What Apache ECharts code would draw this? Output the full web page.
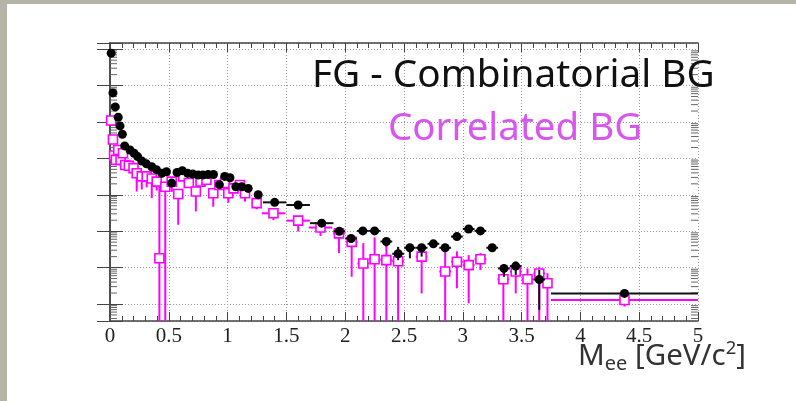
<!DOCTYPE html>
<html><head><meta charset="utf-8">
<script src="https://cdn.jsdelivr.net/npm/echarts@6/dist/echarts.min.js"></script>
<style>
html,body{margin:0;padding:0;background:#b6b4a6;width:796px;height:401px;overflow:hidden;}
#chart{position:absolute;left:7px;top:4px;width:789px;height:397px;background:#fff;}
</style></head>
<body><div id="chart"></div>
<script>
// ---- FG - Combinatorial BG (black filled circles) ----
const fgX  = [0.01,0.025,0.045,0.07,0.085,0.105,0.125,0.17,0.205,0.235,0.27,0.31,0.355,0.395,0.44,0.48,0.525,0.57,0.615,0.66,0.705,0.75,0.79,0.835,0.88,0.93,0.975,1.02,1.07,1.12,1.175,1.26,1.4,1.6,1.8,1.95,2.05,2.15,2.25,2.35,2.45,2.55,2.65,2.75,2.85,2.95,3.05,3.15,3.25,3.35,3.45,3.65,4.375];
const fgY  = [7.8e6,6.3e5,2.6e5,1.35e5,7.8e4,4.6e4,2.2e4,1.7e4,1.38e4,1.12e4,8500,7100,5900,4900,3900,4300,2100,4100,4600,3900,3700,3500,3500,3600,3600,1900,3200,2950,1660,1660,1500,1000,620,525,166,100,63,102,102,52,24,35,35,45,35,71,115,102,35,9.5,11,4.7,1.95];
const fgLo = [0,0,0,0,0,0,0,0,0,0,0,0,0,0,0,0,0,0,0,0,0,0,0,0,0,0,0,0,0,0,0,0,0,0,0,0,52,0,0,38,16,18,20,36,27,0,0,0,28,5.6,6.3,0.69,0];
const fgHi = [0,0,0,0,0,0,0,0,0,0,0,0,0,0,0,0,0,0,0,0,0,0,0,0,0,0,0,0,0,0,0,0,0,0,0,0,75,0,0,62,37,42,42,55,44,0,0,0,44,12,14.5,8.6,0];
const fgHW = [0,0,0,0,0,0,0,0,0,0,0,0,0,0,0,0,0,0,0,0,0,0,0,0,0,0,0,0,0,0,0,0,0.1,0.1,0.1,0.05,0.05,0.05,0.05,0.05,0.05,0.05,0.05,0.05,0.05,0.05,0.05,0.05,0.05,0.05,0.05,0.05,0.625];

// ---- Correlated BG (magenta open squares) ----
const cbX  = [0.01,0.025,0.035,0.05,0.07,0.09,0.11,0.13,0.16,0.2,0.227,0.27,0.312,0.355,0.397,0.42,0.47,0.525,0.58,0.623,0.67,0.73,0.77,0.82,0.878,0.93,0.978,1.006,1.05,1.105,1.148,1.247,1.39,1.6,1.79,1.947,2.055,2.154,2.25,2.35,2.45,2.65,2.85,2.95,3.05,3.15,3.345,3.45,3.55,3.65,3.72,4.375];
const cbY  = [1.1e5,3.3e4,1.2e4,9100,1.7e4,9100,1.38e4,6600,6300,5400,3900,3200,3200,2800,2300,18,1660,2300,1050,3200,2100,1230,2300,2600,1100,1860,2100,1100,1500,1860,1100,590,310,195,126,87,51,13,17,16,15,20,7.8,14.5,11.7,17,4.8,7.8,4.8,6.9,3.7,1.29];
const cbLo = [0,0,0,0,0,0,0,0,0,0,1230,1400,1600,810,1300,0.01,0.01,1200,150,0,0,350,0,0,470,0,0,600,0,0,650,400,200,98,74,25,5.6,0.01,0.01,0.01,0.01,1.95,0.01,2.7,1.05,8.5,0.01,1.95,0.01,0.01,0.01,0.85];
const cbHi = [0,0,0,0,0,0,0,0,0,0,0,0,0,0,0,1660,0,0,0,0,0,0,0,0,0,0,0,0,0,0,0,0,0,0,0,0,0,47,68,45,37,42,28,28,22,25,9.5,14.5,9.5,10.5,7,1.6];
const cbHW = [0,0,0,0,0,0,0,0,0,0,0,0,0,0,0,0,0,0,0,0,0,0,0,0,0,0,0,0,0,0,0,0,0.1,0.1,0.1,0.05,0.05,0.05,0.05,0.05,0.05,0.05,0.05,0.05,0.05,0.05,0.05,0.05,0.05,0.05,0.03,0.625];

// ---- axes ----
const xMin = 0, xMax = 5, xStep = 0.5;
const yMin = 0.341, yMax = 1.48e7;
const decadeExps = [-1,0,1,2,3,4,5,6,7];
const minorMantissas = [2,3,4,5,6,7,8,9];

const chart = echarts.init(document.getElementById('chart'), null, {renderer:'canvas'});

const fgData = fgX.map((x,i)=>[x, fgY[i], fgLo[i], fgHi[i], fgHW[i]]);
const cbData = cbX.map((x,i)=>[x, cbY[i], cbLo[i], cbHi[i], cbHW[i]]);
const minorTicks = [];
decadeExps.forEach(e=>minorMantissas.forEach(m=>{const v=m*Math.pow(10,e); if(v>yMin&&v<yMax) minorTicks.push([0,v]);}));

function errRender(color, lw){
  return function(params, api){
    const x=api.value(0), y=api.value(1), lo=api.value(2), hi=api.value(3), hw=api.value(4);
    const cs=params.coordSys;
    const cl=v=>Math.max(cs.y, Math.min(cs.y+cs.height, v));
    const c=api.coord([x,y]);
    const ch=[];
    if(lo>0||hi>0){
      const a=lo>0?api.coord([x,lo])[1]:c[1];
      const b=hi>0?api.coord([x,hi])[1]:c[1];
      ch.push({type:'line',shape:{x1:c[0],y1:cl(a),x2:c[0],y2:cl(b)},style:{stroke:color,lineWidth:lw}});
    }
    if(hw>0){
      const l=api.coord([x-hw,y]), r=api.coord([x+hw,y]);
      ch.push({type:'line',shape:{x1:l[0],y1:c[1],x2:r[0],y2:c[1]},style:{stroke:color,lineWidth:lw}});
    }
    return {type:'group',children:ch};
  };
}
function minorRender(params, api){
  const v=api.value(1);
  const p=api.coord([0,v]);
  const cs=params.coordSys;
  return {type:'group',children:[
    {type:'line',shape:{x1:cs.x,y1:p[1],x2:cs.x+7,y2:p[1]},style:{stroke:'#666',lineWidth:1}},
    {type:'line',shape:{x1:cs.x+cs.width,y1:p[1],x2:cs.x+cs.width-7,y2:p[1]},style:{stroke:'#666',lineWidth:1}}
  ]};
}

const axisLineStyle = {color:'#444', width:1.5};
const splitStyle = {color:'#999', type:[1,2], width:1};

chart.setOption({
  animation:false,
  backgroundColor:'#fff',
  grid:{left:103, top:39, right:98, bottom:80, containLabel:false},
  xAxis:[
    {type:'value', min:xMin, max:xMax, interval:xStep, position:'bottom',
     axisLine:{show:true, lineStyle:axisLineStyle},
     axisTick:{show:true, inside:true, length:9, lineStyle:{color:'#444', width:1}},
     minorTick:{show:true, splitNumber:5, length:5, lineStyle:{color:'#444', width:1}},
     splitLine:{show:true, lineStyle:splitStyle},
     axisLabel:{show:true, margin:5, fontFamily:'Liberation Serif', fontSize:21, color:'#222',
       formatter:v=>String(v)}},
    {type:'value', min:xMin, max:xMax, interval:xStep, position:'top',
     axisLine:{show:true, lineStyle:axisLineStyle},
     axisTick:{show:true, inside:true, length:9, lineStyle:{color:'#444', width:1}},
     minorTick:{show:true, splitNumber:5, length:5, lineStyle:{color:'#444', width:1}},
     splitLine:{show:false}, axisLabel:{show:false}}
  ],
  yAxis:[
    {type:'log', logBase:10, min:yMin, max:yMax, position:'left',
     axisLine:{show:true, lineStyle:axisLineStyle},
     axisTick:{show:true, inside:true, length:13, lineStyle:{color:'#444', width:1}},
     minorTick:{show:false},
     splitLine:{show:true, lineStyle:splitStyle},
     axisLabel:{show:false}},
    {type:'log', logBase:10, min:yMin, max:yMax, position:'right',
     axisLine:{show:true, lineStyle:axisLineStyle},
     axisTick:{show:true, inside:true, length:13, lineStyle:{color:'#444', width:1}},
     minorTick:{show:false}, splitLine:{show:false}, axisLabel:{show:false}}
  ],
  series:[
    {type:'custom', name:'minor ticks', xAxisIndex:0, yAxisIndex:0, renderItem:minorRender, data:minorTicks, silent:true, z:1},
    {type:'custom', name:'Correlated BG err', xAxisIndex:0, yAxisIndex:0, renderItem:errRender('#ff00ff',2), data:cbData, z:2},
    {type:'scatter', name:'Correlated BG', xAxisIndex:0, yAxisIndex:0, data:cbData, symbol:'rect', symbolSize:9,
     itemStyle:{color:'#fff', borderColor:'#ff00ff', borderWidth:1.6, opacity:1}, z:3},
    {type:'custom', name:'FG err', xAxisIndex:0, yAxisIndex:0, renderItem:errRender('#111',2), data:fgData, z:4},
    {type:'scatter', name:'FG - Combinatorial BG', xAxisIndex:0, yAxisIndex:0, data:fgData, symbol:'circle', symbolSize:9,
     itemStyle:{color:'#000', opacity:1}, z:5}
  ],
  graphic:[
    {type:'text', left:305, top:52, z:100, style:{text:'FG - Combinatorial BG', fontFamily:'Noto Sans', fontSize:38.7, fill:'#111'}},
    {type:'text', left:381, top:106, z:100, style:{text:'Correlated BG', fontFamily:'Noto Sans', fontSize:38.5, fill:'#d955f0'}},
    {type:'text', left:571, top:335, z:100, style:{
      text:'{m|M}{s|ee}{m| [GeV/c}{p|2}{m|]}', fontFamily:'Noto Sans', fill:'#333',
      rich:{
        m:{fontFamily:'Noto Sans', fontSize:29.5, lineHeight:35, fill:'#333', verticalAlign:'middle'},
        s:{fontFamily:'Noto Sans', fontSize:20, lineHeight:24, fill:'#333', verticalAlign:'bottom'},
        p:{fontFamily:'Noto Sans', fontSize:18.5, lineHeight:24, fill:'#333', verticalAlign:'top'}
      }}}
  ]
});
</script></body></html>
